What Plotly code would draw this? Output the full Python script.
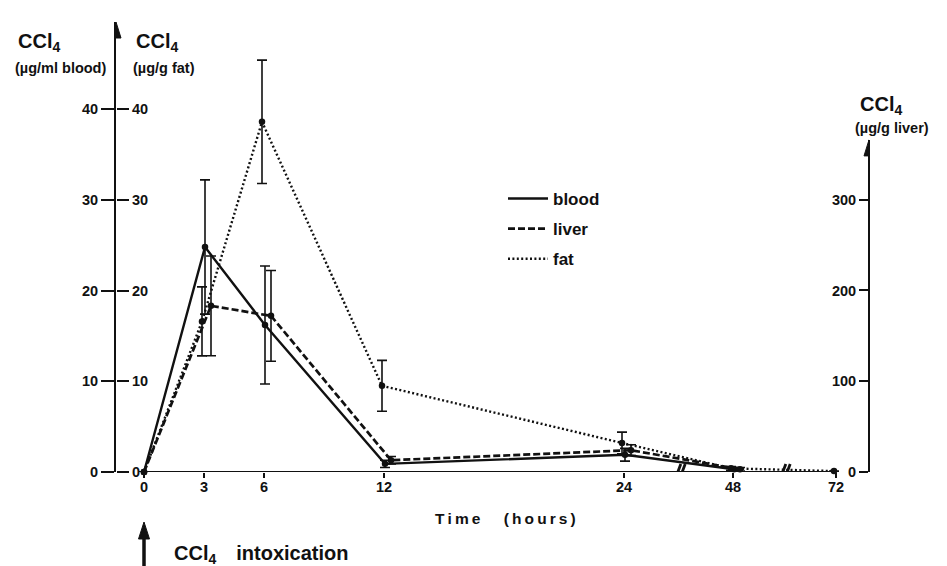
import numpy as np
import plotly.graph_objects as go

# CCl4 concentrations after a single intoxication (mean ± error)
blood_hours = [0, 3, 6, 12, 24, 48]
blood = [0, 24.8, 16.2, 0.9, 1.9, 0.3]          # µg/ml blood
blood_err = [0, 7.4, 6.5, 0.4, 0.7, 0.2]

liver_hours = [0, 3, 6, 12, 24, 48]
liver = [0, 183, 172, 13, 24, 3]                # µg/g liver
liver_err = [0, 55, 50, 4, 6, 2]

fat_hours = [0, 3, 6, 12, 24, 48, 72]
fat = [0, 16.6, 38.6, 9.5, 3.2, 0.4, 0.1]       # µg/g fat
fat_err = [0, 3.8, 6.8, 2.8, 1.2, 0.2, 0]

time_ticks = [0, 3, 6, 12, 24, 48, 72]
left_ticks = [0, 10, 20, 30, 40]
liver_ticks = [0, 100, 200, 300]

# ---- geometry / style -------------------------------------------------------
W, H = 947, 566
ML, MR, MT, MB = 116, 78, 22, 94
PW, PH = W - ML - MR, H - MT - MB
INK = "#111111"
FONT = "Liberation Sans"

# time axis is linear to 24 h, then compressed after the axis breaks
BREAK_KNOTS = [0, 24, 48, 72]
BREAK_POS = [0, 24, 29.45, 34.6]
X_RANGE = [-1.4, 36.25]
Y_TOP = 49.6                 # µg/ml (and µg/g fat) at top of left axis
LIVER_DOMAIN_TOP = 0.738
LIVER_TOP = 365.8
DODGE = {"blood": 0.05, "liver": 0.35, "fat": -0.1}


def tpos(hours, dodge=0.0):
    h = np.asarray(hours, dtype=float)
    p = np.interp(h, BREAK_KNOTS, BREAK_POS)
    return np.where(h > 0, p + dodge, p)


def px(x):
    return (x - ML) / PW


def py(y):
    return (MT + PH - y) / PH


fig = go.Figure()

series = [
    ("blood", blood_hours, blood, blood_err, "y", dict(dash="solid", width=2.4)),
    ("liver", liver_hours, liver, liver_err, "y3", dict(dash="7px,3px", width=2.7)),
    ("fat", fat_hours, fat, fat_err, "y2", dict(dash="2px,2.4px", width=2.4)),
]

for name, hrs, vals, errs, yax, line in series:
    xs = tpos(hrs, DODGE[name])
    fig.add_trace(go.Scatter(
        x=xs, y=vals, mode="lines", name=name, yaxis=yax,
        legendgroup=name, line=dict(color=INK, **line),
    ))
    fig.add_trace(go.Scatter(
        x=xs, y=vals, mode="markers", yaxis=yax, showlegend=False,
        legendgroup=name, marker=dict(color=INK, size=6.5),
        error_y=dict(type="data", array=errs, color=INK, thickness=1.6, width=5),
        cliponaxis=False,
    ))

tick_font = dict(family=FONT, size=14.5, color=INK, weight="bold")

fig.update_layout(
    width=W, height=H,
    margin=dict(l=ML, r=MR, t=MT, b=MB),
    paper_bgcolor="white", plot_bgcolor="rgba(0,0,0,0)",
    font=dict(family=FONT, color=INK),
    xaxis=dict(
        range=X_RANGE, showgrid=False, zeroline=False, showline=False,
        tickmode="array", tickvals=list(tpos(time_ticks)),
        ticktext=[str(t) for t in time_ticks],
        ticks="outside", ticklen=5, tickwidth=2, tickcolor=INK,
        tickfont=tick_font, ticklabelstandoff=-3,
    ),
    xaxis2=dict(
        range=X_RANGE, overlaying="x", anchor="y", showgrid=False,
        zeroline=False, showline=False, tickmode="array",
        tickvals=list(tpos(time_ticks)), ticks="inside", ticklen=5,
        tickwidth=2, tickcolor=INK, showticklabels=False,
    ),
    yaxis=dict(
        range=[0, Y_TOP], showgrid=False, zeroline=False,
        showline=True, linewidth=2, linecolor=INK,
        tickmode="array", tickvals=left_ticks,
        ticks="outside", ticklen=13, tickwidth=2, tickcolor=INK,
        tickfont=tick_font,
    ),
    yaxis2=dict(
        range=[0, Y_TOP], overlaying="y", anchor="free", position=0,
        side="right", showgrid=False, zeroline=False, showline=False,
        tickmode="array", tickvals=left_ticks,
        ticks="outside", ticklen=12, tickwidth=2, tickcolor=INK,
        tickfont=tick_font,
    ),
    yaxis3=dict(
        domain=[0, LIVER_DOMAIN_TOP], range=[0, LIVER_TOP],
        anchor="free", position=1, side="left",
        showgrid=False, zeroline=False, showline=True, linewidth=2,
        linecolor=INK, tickmode="array", tickvals=liver_ticks,
        ticks="outside", ticklen=9, tickwidth=2, tickcolor=INK,
        tickfont=tick_font,
    ),
    legend=dict(
        x=px(503), y=py(181), xanchor="left", yanchor="top",
        bgcolor="rgba(0,0,0,0)", itemwidth=40, tracegroupgap=5,
        traceorder="grouped",
        font=dict(family=FONT, size=17, color=INK, weight="bold"),
    ),
    showlegend=True,
)

# axis titles and notes
labels = [
    ("<b>CCl<sub>4</sub></b>", 16, 43, 20, "left"),
    ("<b>(µg/ml blood)</b>", 13, 68, 14.5, "left"),
    ("<b>CCl<sub>4</sub></b>", 134, 43, 20, "left"),
    ("<b>(µg/g fat)</b>", 131, 68, 14.5, "left"),
    ("<b>CCl<sub>4</sub></b>", 858, 106, 20, "left"),
    ("<b>(µg/g liver)</b>", 853, 128, 14.5, "left"),
    ("<b>T\u2009i\u2009m\u2009e\u2003\u2002(\u2009h\u2009o\u2009u\u2009r\u2009s\u2009)</b>",
     505, 518, 15.5, "center"),
    ("<b>CCl<sub>4</sub>\u2003intoxication</b>", 172, 554, 20, "left"),
]
for text, x, y, size, anchor in labels:
    fig.add_annotation(
        text=text, xref="paper", yref="paper", x=px(x), y=py(y),
        xanchor=anchor, yanchor="middle", showarrow=False,
        font=dict(family=FONT, size=size, color=INK),
    )

# time axis line (0 – 72 h)
fig.add_shape(type="line", xref="x", yref="y", x0=0, x1=float(tpos(72)),
              y0=0, y1=0, line=dict(color=INK, width=2))

# axis breaks
for xb in (26.8, 32.05):
    for dx in (-2.2, 2.2):
        fig.add_shape(
            type="path", xref="x", yref="y", xsizemode="pixel",
            ysizemode="pixel", xanchor=xb, yanchor=0,
            path=f"M{dx - 3},-8 L{dx + 3},8",
            line=dict(color=INK, width=2.8),
        )

# arrowheads on the concentration axes
arrow = "M-5,-16 L5,-16 L0,0 Z"
fig.add_shape(type="path", xref="x", yref="paper", xsizemode="pixel",
              ysizemode="pixel", xanchor=X_RANGE[0], yanchor=1, path=arrow,
              fillcolor=INK, line=dict(color=INK, width=1))
fig.add_shape(type="path", xref="x", yref="paper", xsizemode="pixel",
              ysizemode="pixel", xanchor=X_RANGE[1], yanchor=LIVER_DOMAIN_TOP,
              path=arrow, fillcolor=INK, line=dict(color=INK, width=1))

# intoxication marker below the time axis
fig.add_shape(type="path", xref="x", yref="paper", xsizemode="pixel",
              ysizemode="pixel", xanchor=0, yanchor=py(522),
              path="M0,-14 L0,-50", line=dict(color=INK, width=3.5))
fig.add_shape(type="path", xref="x", yref="paper", xsizemode="pixel",
              ysizemode="pixel", xanchor=0, yanchor=py(522),
              path="M-5.5,-17 L5.5,-17 L0,0 Z", fillcolor=INK,
              line=dict(color=INK, width=1))

fig.write_html("out.html")
